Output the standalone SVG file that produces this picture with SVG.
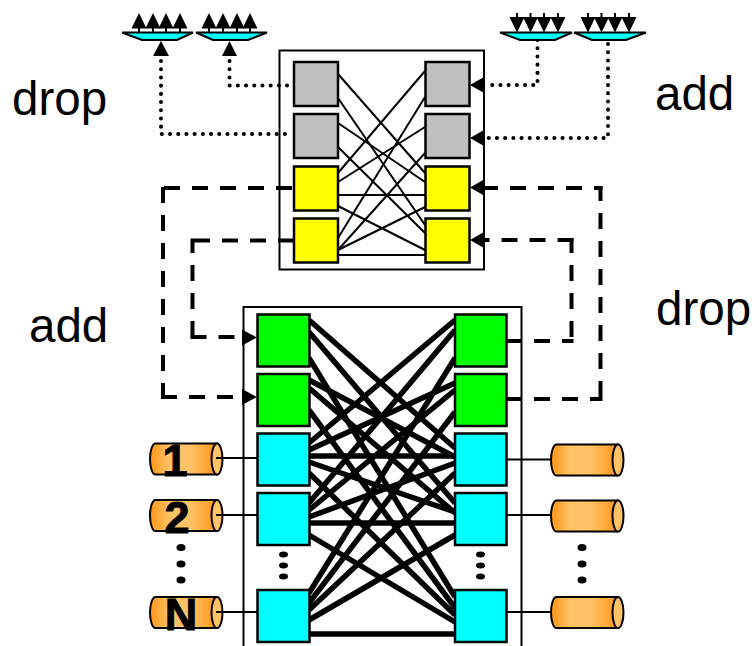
<svg xmlns="http://www.w3.org/2000/svg" width="752" height="646" viewBox="0 0 752 646">
<style>
.box{stroke:#000;stroke-width:2.5}
.gray{fill:#c0c0c0}.yel{fill:#ff0}.grn{fill:#0f0}.cyn{fill:#0ff}
.thin{stroke:#000;stroke-width:2;fill:none}
.thick{stroke:#000;stroke-width:5.500;fill:none}
.dot{stroke:#000;stroke-width:4;fill:none;stroke-linecap:round;stroke-dasharray:0.1 8.1}
.dash{stroke:#000;stroke-width:4;fill:none;stroke-dasharray:16 12}
.lbl{font-family:"Liberation Sans",Arial,sans-serif;font-size:47.500px;fill:#000}
.num{font-family:"Liberation Sans",Arial,sans-serif;font-size:45px;font-weight:bold;fill:#000;stroke:#000;stroke-width:1;text-anchor:middle}
.cont{fill:none;stroke:#000;stroke-width:2}
.cyl{fill:url(#cg);stroke:#000;stroke-width:2}
.end{fill:#ffc266;stroke:#000;stroke-width:2}
.dm{fill:#0ff;stroke:#000;stroke-width:2}
</style>
<defs>
<linearGradient id="cg" x1="0" y1="0" x2="1" y2="0">
<stop offset="0" stop-color="#ff9414"/><stop offset="0.28" stop-color="#ffc266"/><stop offset="0.6" stop-color="#ffc266"/><stop offset="1" stop-color="#ff9414"/>
</linearGradient>
<g id="up"><path d="M-7.500 15.500 L0 0 L7.500 15.500Z"/><path d="M0 15 V19.500" stroke="#000" stroke-width="2"/></g>
<g id="dn"><path d="M-7.500 4 L0 19.500 L7.500 4Z"/><path d="M0 0 V4" stroke="#000" stroke-width="2"/></g>
<g id="cy"><path class="cyl" d="M5.500 0 H67 V31 H5.500 A5.500 15.500 0 0 1 5.500 0Z"/><ellipse class="end" cx="67" cy="15.500" rx="5.500" ry="15.500"/></g>
</defs>
<g id="labels">
<text class="lbl" x="12" y="115">drop</text>
<text class="lbl" x="655" y="110">add</text>
<text class="lbl" x="29" y="342">add</text>
<text class="lbl" x="656" y="325">drop</text>
</g>
<g id="containers">
<rect id="upper-switch" class="cont" x="279.500" y="50.500" width="204.500" height="219"/>
<path id="lower-switch" class="cont" d="M243.500 646 V307 H521.500 V646"/>
</g>
<g id="connectors">
<g id="upper-mesh" class="thin">
<path d="M338 74 L425 173"/><path d="M338 98 L425 225"/>
<path d="M338 123 L425 182"/><path d="M338 147 L425 233"/>
<path d="M338 173 L425 71"/><path d="M338 182 L425 127"/><path d="M338 195 H425"/><path d="M338 206 L425 250"/>
<path d="M338 238 L425 97"/><path d="M338 250 L425 153"/><path d="M338 250 L425 207"/><path d="M338 255 H425"/>
</g>
<g id="lower-mesh" class="thick">
<path d="M309 320 L455 448"/><path d="M309 332 L455 503"/><path d="M309 358 L455 597"/>
<path d="M309 380 L455 457"/><path d="M309 388 L455 513"/><path d="M309 410 L455 608"/>
<path d="M309 443 L455 320"/><path d="M309 450 L455 383"/><path d="M309 456 H455"/><path d="M309 462 L455 512"/><path d="M309 473 L455 615"/>
<path d="M309 503 L455 330"/><path d="M309 510 L455 390"/><path d="M309 517 L455 463"/><path d="M309 523 H455"/><path d="M309 535 L455 622"/>
<path d="M309 593 L455 358"/><path d="M309 603 L455 412"/><path d="M309 610 L455 473"/><path d="M309 620 L455 535"/><path d="M309 634 H455"/>
</g>
<g id="dotted">
<path class="dot" d="M161 61 V134 H290"/>
<path class="dot" d="M229.500 61 V85.500 H290"/>
<path class="dot" d="M537.500 40 V85 H488"/>
<path class="dot" d="M608 44 V138 H488"/>
</g>
<g id="dashed">
<path class="dash" d="M292 188 H161"/><path class="dash" d="M163 399 V186"/><path class="dash" d="M161 397 H242"/>
<path class="dash" d="M294 240.500 H190.500"/><path class="dash" d="M192.500 337 V238.500"/><path class="dash" d="M190.500 337 H243"/>
<path class="dash" d="M506 341 H573.500"/><path class="dash" d="M571.500 337 V238"/><path class="dash" d="M573.500 240 H484"/>
<path class="dash" d="M506 399 H602.500"/><path class="dash" d="M600.500 397 V186"/><path class="dash" d="M482 188 H602.500"/>
</g>
<g id="arrowheads" fill="#000">
<path d="M161 41 L153 56 H169Z"/><path d="M229.500 41 L222 56 H237Z"/>
<path d="M470 85 L484 77 V93Z"/><path d="M470 138 L484 130 V146Z"/><path d="M470 187.500 L484 179.500 V195.500Z"/><path d="M470 240 L484 232 V248Z"/>
<path d="M257 337.500 L242 329.500 V345.500Z"/><path d="M257 397 L242 389 V405Z"/>
</g>
</g>
<g id="upper-boxes">
<rect id="u-l1" class="box gray" x="294" y="62" width="44" height="44"/>
<rect id="u-l2" class="box gray" x="294" y="114" width="44" height="44"/>
<rect id="u-l3" class="box yel" x="294" y="166.500" width="44" height="44"/>
<rect id="u-l4" class="box yel" x="294" y="218.500" width="44" height="44"/>
<rect id="u-r1" class="box gray" x="425.500" y="62" width="44" height="44"/>
<rect id="u-r2" class="box gray" x="425.500" y="114" width="44" height="44"/>
<rect id="u-r3" class="box yel" x="425.500" y="166.500" width="44" height="44"/>
<rect id="u-r4" class="box yel" x="425.500" y="218.500" width="44" height="44"/>
</g>
<g id="lower-boxes">
<rect id="l-l1" class="box grn" x="257.500" y="314.500" width="52" height="52"/>
<rect id="l-l2" class="box grn" x="257.500" y="374" width="52" height="52"/>
<rect id="l-l3" class="box cyn" x="257.500" y="433.500" width="52" height="52"/>
<rect id="l-l4" class="box cyn" x="257.500" y="493" width="52" height="52"/>
<rect id="l-l5" class="box cyn" x="257.500" y="590" width="52" height="52"/>
<rect id="l-r1" class="box grn" x="455" y="314.500" width="51.500" height="52"/>
<rect id="l-r2" class="box grn" x="455" y="374" width="51.500" height="52"/>
<rect id="l-r3" class="box cyn" x="455" y="433.500" width="51.500" height="52"/>
<rect id="l-r4" class="box cyn" x="455" y="493" width="51.500" height="52"/>
<rect id="l-r5" class="box cyn" x="455" y="590" width="51.500" height="52"/>
</g>
<g id="demux-drop-1">
<use href="#up" x="139" y="13"/><use href="#up" x="153" y="13"/><use href="#up" x="166" y="13"/><use href="#up" x="180" y="13"/>
<path class="dm" d="M122 32.500 H193 L177 40 H142Z"/>
</g>
<g id="demux-drop-2">
<use href="#up" x="209" y="13"/><use href="#up" x="223" y="13"/><use href="#up" x="237" y="13"/><use href="#up" x="250" y="13"/>
<path class="dm" d="M196 32.500 H267 L248 40 H213Z"/>
</g>
<g id="mux-add-1">
<use href="#dn" x="517" y="13"/><use href="#dn" x="530.500" y="13"/><use href="#dn" x="544" y="13"/><use href="#dn" x="558" y="13"/>
<path class="dm" d="M500 32.500 H572 L555 40 H520Z"/>
</g>
<g id="mux-add-2">
<use href="#dn" x="588" y="13"/><use href="#dn" x="601.500" y="13"/><use href="#dn" x="615" y="13"/><use href="#dn" x="629" y="13"/>
<path class="dm" d="M574 32.500 H646 L626 40 H592Z"/>
</g>
<g id="fibre-in-1"><use href="#cy" x="150" y="443.500"/><text class="num" x="175" y="476">1</text></g>
<g id="fibre-in-2"><use href="#cy" x="150" y="500"/><text class="num" x="177" y="533">2</text></g>
<g id="fibre-in-n"><use href="#cy" x="150" y="597"/><text class="num" x="181" y="630">N</text></g>
<g id="fibre-out-1"><use href="#cy" x="551" y="444.500"/></g>
<g id="fibre-out-2"><use href="#cy" x="551" y="500.500"/></g>
<g id="fibre-out-n"><use href="#cy" x="551" y="597"/></g>
<g id="fibres" class="thin">
<path d="M216 458 H257"/><path d="M216 515 H257"/><path d="M216 612 H257"/>
<path d="M506 459.500 H550"/><path d="M506 515 H550"/><path d="M506 612 H550"/>
</g>
<g id="ellipses" fill="#000">
<ellipse cx="181" cy="547.500" rx="4.500" ry="3.500"/><ellipse cx="181" cy="564" rx="4.500" ry="3.500"/><ellipse cx="181" cy="580" rx="4.500" ry="3.500"/>
<ellipse cx="283.500" cy="554.500" rx="4.500" ry="3"/><ellipse cx="283.500" cy="565.500" rx="4.500" ry="3"/><ellipse cx="283.500" cy="576.500" rx="4.500" ry="3"/>
<ellipse cx="480.500" cy="554.500" rx="4.500" ry="3"/><ellipse cx="480.500" cy="565.500" rx="4.500" ry="3"/><ellipse cx="480.500" cy="576.500" rx="4.500" ry="3"/>
<ellipse cx="582" cy="547.500" rx="4.500" ry="3.500"/><ellipse cx="582" cy="564" rx="4.500" ry="3.500"/><ellipse cx="582" cy="580" rx="4.500" ry="3.500"/>
</g>
</svg>
